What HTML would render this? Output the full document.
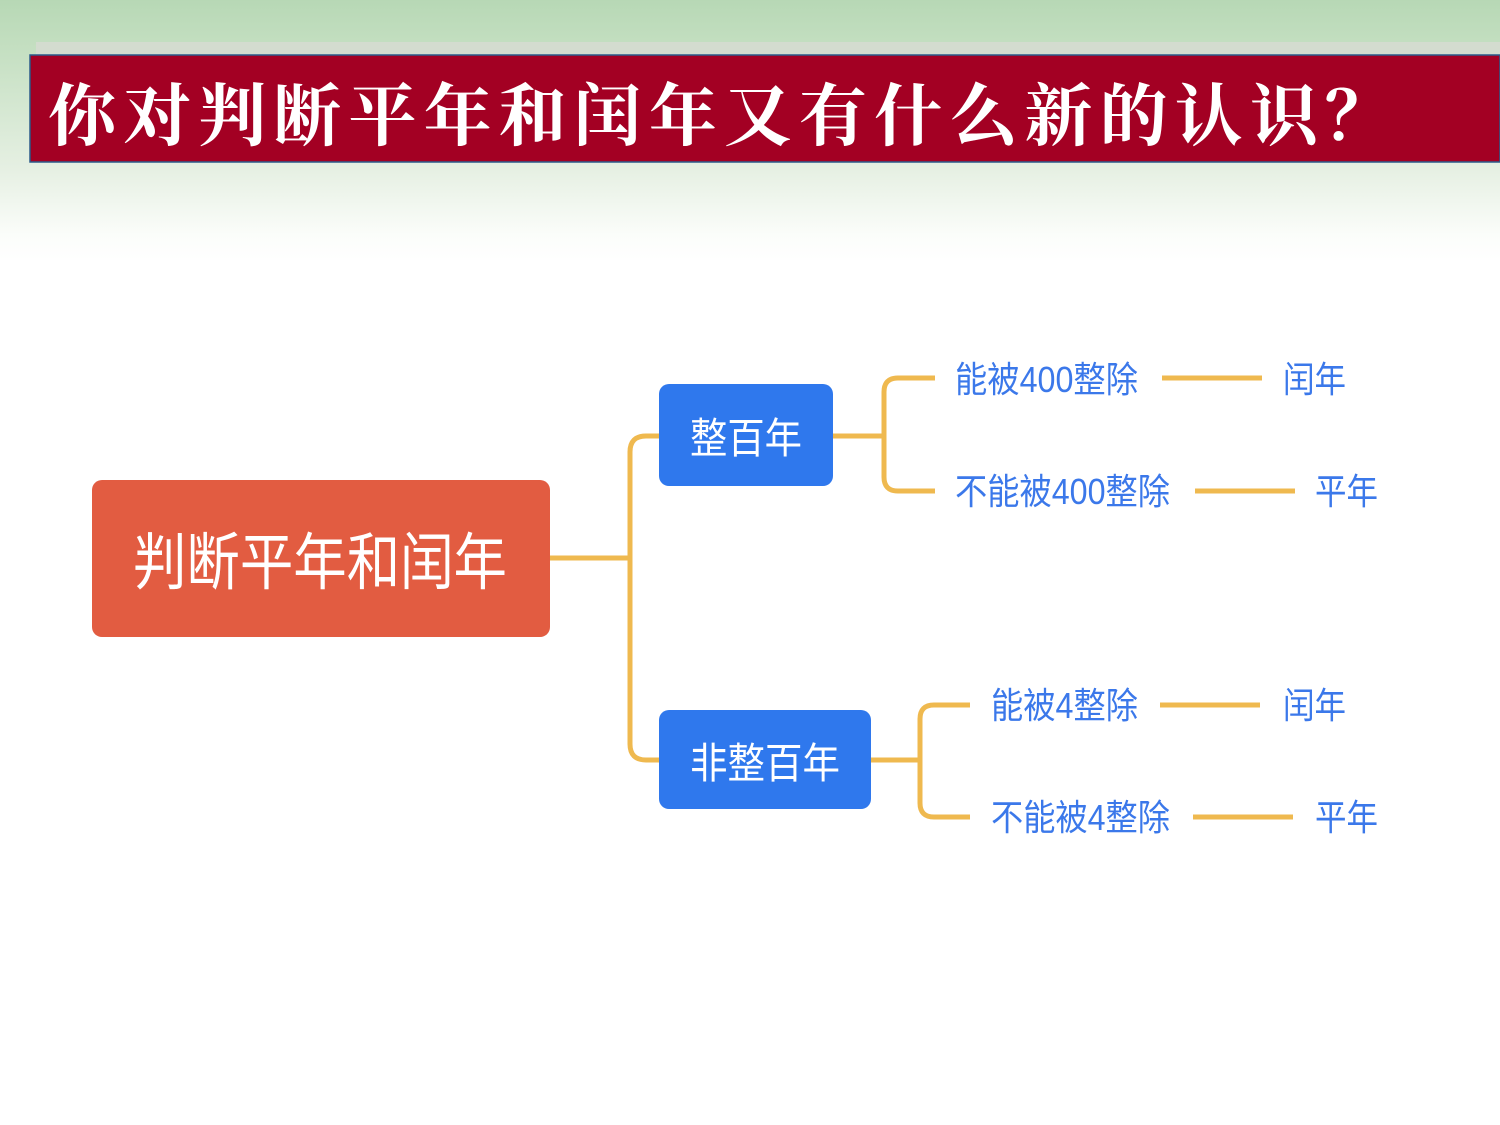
<!DOCTYPE html>
<html><head><meta charset="utf-8"><style>
html,body{margin:0;padding:0;}
body{width:1500px;height:1125px;overflow:hidden;background:linear-gradient(#b7d8b5 0px,#c6e0c3 55px,#e6f0e3 170px,#fbfdfa 235px,#fff 260px);}
svg{display:block}
</style></head><body>
<svg width="1500" height="1125" xmlns="http://www.w3.org/2000/svg">
<rect x="36" y="42" width="1464" height="14" fill="#d3dccf"/>
<rect x="30" y="55" width="1470" height="107" fill="#a30023" stroke="#2b5a8a" stroke-width="1.5"/>
<text x="48" y="140" font-family="'Noto Serif CJK SC','Liberation Serif',serif" font-size="68" font-weight="bold" fill="#fff" textLength="1345" lengthAdjust="spacing">你对判断平年和闰年又有什么新的认识？</text>
<g fill="none" stroke="#efb94f" stroke-width="5">
<path d="M550 558 H630"/>
<path d="M659 436 H646 Q630 436 630 452 V744 Q630 760 646 760 H659"/>
<path d="M833 436 H884"/>
<path d="M935 378 H898 Q884 378 884 392 V477 Q884 491 898 491 H935"/>
<path d="M871 760 H920"/>
<path d="M970 705 H934 Q920 705 920 719 V803 Q920 817 934 817 H970"/>
<path d="M1162 378 H1262"/>
<path d="M1195 491 H1295"/>
<path d="M1160 705 H1260"/>
<path d="M1193 817 H1293"/>
</g>
<rect x="92" y="480" width="458" height="157" rx="10" fill="#e25c41"/>
<text x="133" y="584" font-family="'Liberation Sans','Noto Sans CJK SC',sans-serif" font-size="62" fill="#fff" textLength="374" lengthAdjust="spacingAndGlyphs">判断平年和闰年</text>
<rect x="659" y="384" width="174" height="102" rx="10" fill="#2f78ed"/>
<text x="690" y="453" font-family="'Liberation Sans','Noto Sans CJK SC',sans-serif" font-size="42" fill="#fff" textLength="112" lengthAdjust="spacingAndGlyphs">整百年</text>
<rect x="659" y="710" width="212" height="99" rx="10" fill="#2f78ed"/>
<text x="690" y="778" font-family="'Liberation Sans','Noto Sans CJK SC',sans-serif" font-size="42" fill="#fff" textLength="150" lengthAdjust="spacingAndGlyphs">非整百年</text>
<g font-family="'Liberation Sans','Noto Sans CJK SC',sans-serif" font-size="36" fill="#3b78ea">
<text x="955" y="392" textLength="183" lengthAdjust="spacingAndGlyphs">能被400整除</text>
<text x="1283" y="392" textLength="63" lengthAdjust="spacingAndGlyphs">闰年</text>
<text x="955" y="504" textLength="215" lengthAdjust="spacingAndGlyphs">不能被400整除</text>
<text x="1315" y="504" textLength="63" lengthAdjust="spacingAndGlyphs">平年</text>
<text x="991" y="718" textLength="147" lengthAdjust="spacingAndGlyphs">能被4整除</text>
<text x="1283" y="718" textLength="63" lengthAdjust="spacingAndGlyphs">闰年</text>
<text x="991" y="830" textLength="179" lengthAdjust="spacingAndGlyphs">不能被4整除</text>
<text x="1315" y="830" textLength="63" lengthAdjust="spacingAndGlyphs">平年</text>
</g>
</svg>
</body></html>
